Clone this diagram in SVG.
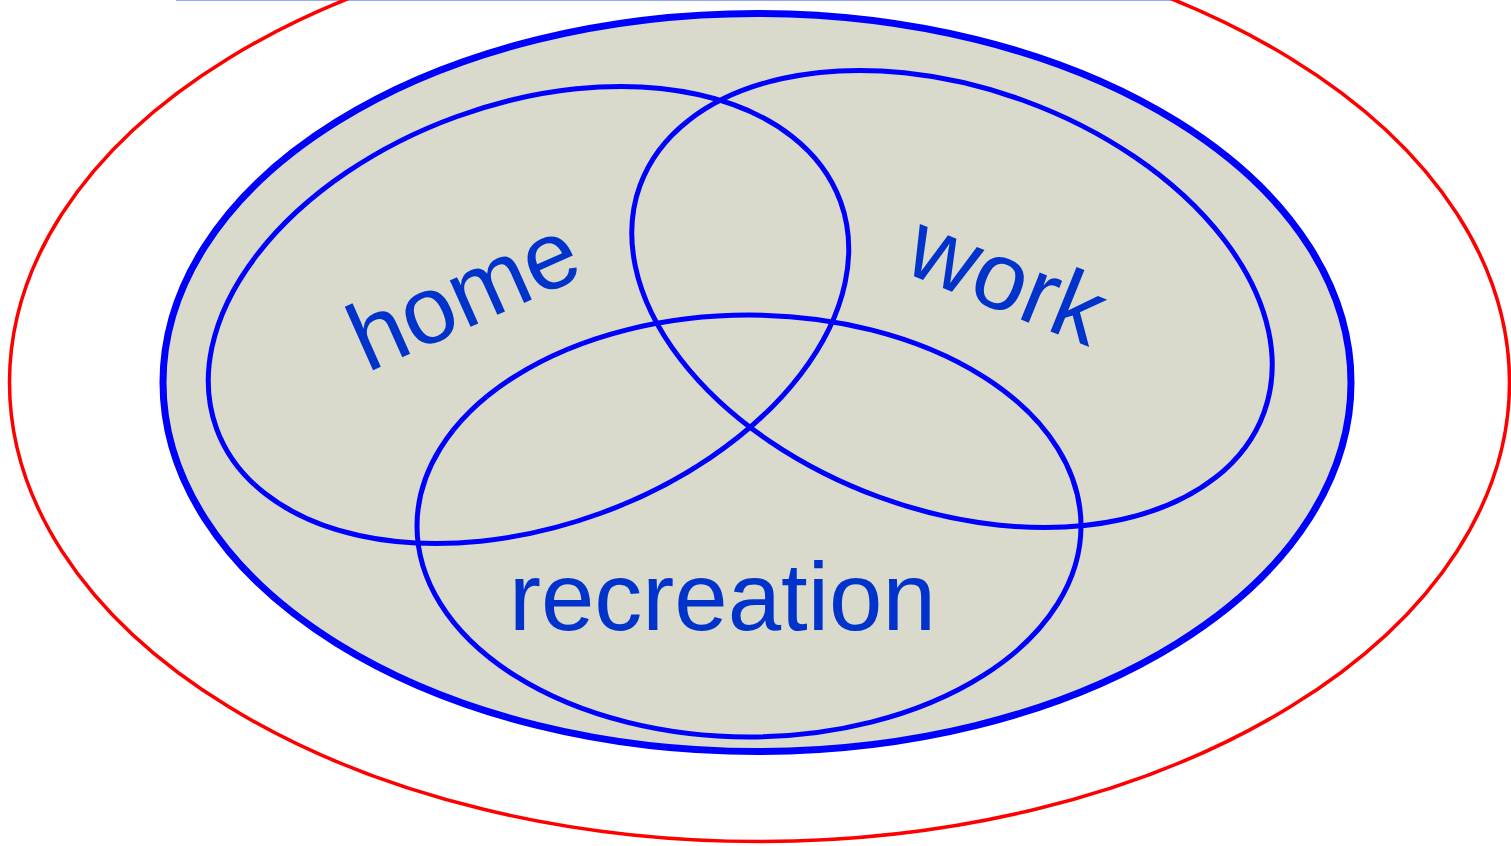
<svg xmlns="http://www.w3.org/2000/svg" width="1511" height="846" viewBox="0 0 1511 846">
<style>
.set{fill:none;stroke:#0000FF;stroke-width:5}
.lbl{font-family:"Liberation Sans",Arial,sans-serif;font-size:96px;fill:#0033CC}
</style>
<rect width="1511" height="846" fill="#FFFFFF"/>
<line x1="176" y1="0.5" x2="1175" y2="0.5" stroke="#99AAEE" stroke-width="1"/>
<g id="universe">
<ellipse cx="759.5" cy="382.5" rx="750" ry="459" fill="none" stroke="#FF0000" stroke-width="3.5"/>
</g>
<g id="domain">
<ellipse cx="757" cy="382.5" rx="594" ry="369" fill="#D9D9CC" stroke="#0000FF" stroke-width="7"/>
</g>
<g id="home">
<ellipse class="set" cx="528.5" cy="315" rx="332" ry="211" transform="rotate(-20 528.5 315)"/>
<text class="lbl" transform="translate(367 373) rotate(-24)">home</text>
</g>
<g id="work">
<ellipse class="set" cx="952" cy="299" rx="332" ry="211" transform="rotate(20 952 299)"/>
<text class="lbl" transform="translate(901 271) rotate(22)">work</text>
</g>
<g id="recreation">
<ellipse class="set" cx="749" cy="526" rx="332" ry="211"/>
<text class="lbl" x="509" y="630">recreation</text>
</g>
</svg>
